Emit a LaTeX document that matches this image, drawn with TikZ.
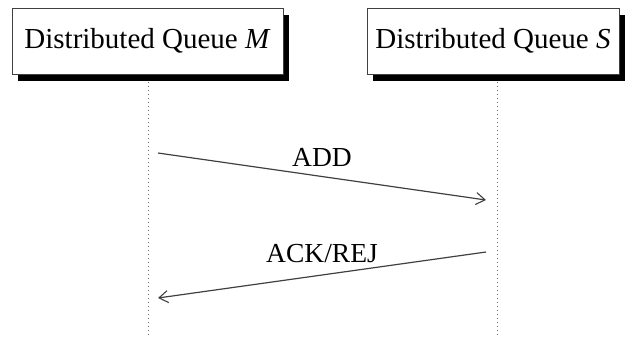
\documentclass[tikz,border=0pt]{standalone}
\usepackage{fontspec}
\setmainfont{Liberation Serif}
\usetikzlibrary{arrows.meta,shadows}
\begin{document}
\begin{tikzpicture}[x=1pt,y=-1pt,
  actor/.style={draw=black!75,line width=1pt,fill=white,inner sep=0pt,
    minimum height=66pt,font=\fontsize{29}{33}\selectfont,
    drop shadow={shadow xshift=6pt,shadow yshift=-7pt,fill=black,opacity=1}},
  lifeline/.style={draw=black!60,line width=0.9pt,dash pattern=on 1pt off 3pt},
  msg/.style={draw=black!75,line width=1.2pt,-{Straight Barb[length=9pt,width=12pt,line width=1.1pt]}},
  lbl/.style={font=\fontsize{27.5}{32}\selectfont}]
\useasboundingbox (0,0) rectangle (627,341);
% participants
\node[actor,minimum width=271pt] (qm) at (147.5,41) {Distributed Queue \textit{M}};
\node[actor,minimum width=252pt] (qs) at (493,41) {Distributed Queue \textit{S}};
% lifelines
\coordinate (mtop) at (148,82);
\coordinate (mbot) at (148,338);
\coordinate (stop) at (497,82);
\coordinate (sbot) at (497,338);
\draw[lifeline] (mtop) -- (mbot);
\draw[lifeline] (stop) -- (sbot);
% messages
\coordinate (a1) at (158,153);
\coordinate (a2) at (486,200);
\coordinate (b1) at (486,252);
\coordinate (b2) at (158,298);
\draw[msg] (a1) -- (a2);
\draw[msg] (b1) -- (b2);
\node[lbl] (add) at (322,157) {ADD};
\node[lbl] (ack) at (322,254) {ACK/REJ};
\end{tikzpicture}
\end{document}
